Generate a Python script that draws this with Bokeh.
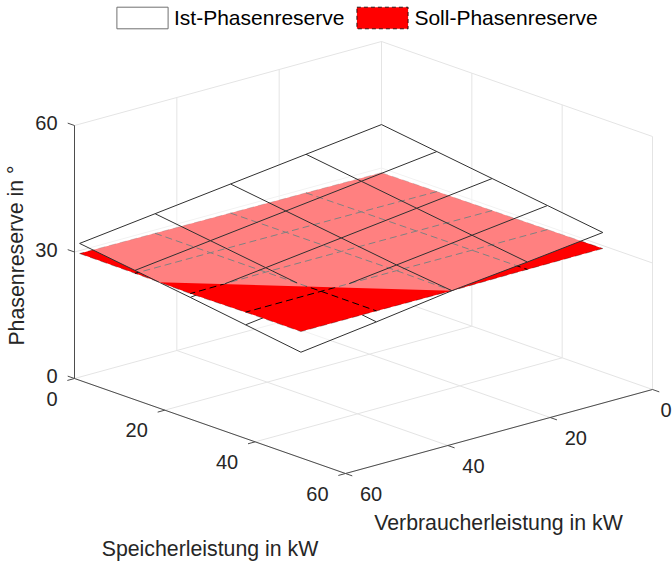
from bokeh.plotting import figure
from bokeh.models import Legend, LegendItem
from bokeh.core.properties import value
from bokeh.embed import file_html
from bokeh.resources import INLINE

# ---- data
speicher = [0, 12.25, 24.5, 36.75, 49]
verbraucher = [0, 14.75, 29.5, 44.25, 59]
ist = [
    [40.3, 38.15, 36.0, 33.85, 31.7],
    [38.5, 36.35, 34.2, 32.05, 29.9],
    [36.7, 34.55, 32.4, 30.25, 28.1],
    [34.9, 32.75, 30.6, 28.45, 26.2],
    [33.1, 31.0, 29.1, 26.6, 24.3],
]
soll = [
    [28.9, 29.0, 29.1, 29.2, 29.3],
    [29.0, 29.1, 29.15, 29.2, 29.2],
    [29.1, 29.15, 29.2, 29.2, 29.0],
    [29.2, 29.2, 29.25, 29.25, 29.2],
    [29.3, 29.25, 29.1, 29.2, 29.2],
]
xy_ticks = [0, 20, 40, 60]
z_ticks = [0, 30, 60]
series_names = ["Ist-Phasenreserve", "Soll-Phasenreserve"]
xlabel = "Speicherleistung in kW"
ylabel = "Verbraucherleistung in kW"
zlabel = "Phasenreserve in °"

# ---- orthographic view of the 3D axes (screen pixels)
BACK = (381.0, 294.0)
DS = (271.0 / 60, 95.0 / 60)
DV = (-307.0 / 60, 84.0 / 60)
DZ = 253.0 / 60


def proj(s, v, z):
    return (BACK[0] + DS[0] * s + DV[0] * v,
            BACK[1] + DS[1] * s + DV[1] * v - DZ * z)


FONT = value("Liberation Sans")
TXT = "#262626"
GRID = "#e4e4e4"
AXC = "#4d4d4d"
MESH = "#303030"

p = figure(width=672, height=561, x_range=(0, 672), y_range=(561, 0),
           output_backend="svg", toolbar_location=None, min_border=0,
           x_axis_type=None, y_axis_type=None, outline_line_color=None)
p.grid.visible = False
p.background_fill_color = "white"


def seg(a, b):
    pa, pb = proj(*a), proj(*b)
    return [pa[0], pb[0]], [pa[1], pb[1]]


# grid on walls and floor
gx, gy = [], []
for t in xy_ticks:
    for a, b in [((t, 0, 0), (t, 60, 0)), ((0, t, 0), (60, t, 0)),
                 ((0, t, 0), (0, t, 60)), ((t, 0, 0), (t, 0, 60))]:
        x, y = seg(a, b)
        gx.append(x)
        gy.append(y)
for z in z_ticks[1:]:
    for a, b in [((0, 0, z), (0, 60, z)), ((0, 0, z), (60, 0, z))]:
        x, y = seg(a, b)
        gx.append(x)
        gy.append(y)
p.multi_line(gx, gy, line_color=GRID, line_width=1)

# axes lines and ticks
ax, ay = [], []
for a, b in [((0, 60, 0), (60, 60, 0)), ((60, 60, 0), (60, 0, 0)), ((0, 60, 0), (0, 60, 60))]:
    x, y = seg(a, b)
    ax.append(x)
    ay.append(y)
for t in xy_ticks:
    x, y = seg((t, 60, 0), (t, 61.4, 0))
    ax.append(x)
    ay.append(y)
    x, y = seg((60, t, 0), (61.5, t, 0))
    ax.append(x)
    ay.append(y)
for t in z_ticks:
    x, y = seg((0, 60, t), (-1.5, 60, t))
    ax.append(x)
    ay.append(y)
p.multi_line(ax, ay, line_color=AXC, line_width=1)


# ---- splitting the Ist surface where it passes through the Soll surface
def split_edge(a, b):
    """Edges as (s, v, zi, d); returns the parts above and below the Soll surface."""
    if a[3] >= 0 and b[3] >= 0:
        return [(a, b)], []
    if a[3] <= 0 and b[3] <= 0:
        return [], [(a, b)]
    t = a[3] / (a[3] - b[3])
    m = tuple(a[i] + t * (b[i] - a[i]) for i in range(4))
    return ([(a, m)], [(m, b)]) if a[3] > 0 else ([(m, b)], [(a, m)])


def node(i, j):
    return (speicher[i], verbraucher[j], ist[i][j], ist[i][j] - soll[i][j])


n = len(speicher)
up_x, up_y, lo_x, lo_y = [], [], [], []
for i in range(n):
    for j in range(n):
        for other in ([(i + 1, j)] if i + 1 < n else []) + ([(i, j + 1)] if j + 1 < n else []):
            above, below = split_edge(node(i, j), node(*other))
            for (a, b), xs, ys in [(e, up_x, up_y) for e in above] + [(e, lo_x, lo_y) for e in below]:
                pa, pb = proj(a[0], a[1], a[2]), proj(b[0], b[1], b[2])
                xs.append([pa[0], pb[0]])
                ys.append([pa[1], pb[1]])

ring = ([(i, 0) for i in range(n)] + [(n - 1, j) for j in range(1, n)] +
        [(i, n - 1) for i in range(n - 2, -1, -1)] + [(0, j) for j in range(n - 2, 0, -1)])


def clip_ring(sign):
    pts = [node(i, j) for i, j in ring]
    out = []
    for k, a in enumerate(pts):
        b = pts[(k + 1) % len(pts)]
        if sign * a[3] >= 0:
            out.append(a)
        if a[3] * b[3] < 0:
            t = a[3] / (a[3] - b[3])
            out.append(tuple(a[q] + t * (b[q] - a[q]) for q in range(4)))
    return [proj(q[0], q[1], q[2]) for q in out]


lo_poly = clip_ring(-1)
up_poly = clip_ring(1)

# lower part of Ist: behind the Soll surface
p.patch([q[0] for q in lo_poly], [q[1] for q in lo_poly], fill_color="white", fill_alpha=0.5, line_color=None)
p.multi_line(lo_x, lo_y, line_color=MESH, line_width=1)

# Soll surface
soll_ring = [proj(speicher[i], verbraucher[j], soll[i][j]) for i, j in ring]
p.patch([q[0] for q in soll_ring], [q[1] for q in soll_ring], fill_color="#ff0000", line_color=None)
sx, sy, ex, ey = [], [], [], []
for i in range(n):
    row = [proj(speicher[i], verbraucher[j], soll[i][j]) for j in range(n)]
    col = [proj(speicher[j], verbraucher[i], soll[j][i]) for j in range(n)]
    for line in (row, col):
        if 0 < i < n - 1:
            sx.append([q[0] for q in line])
            sy.append([q[1] for q in line])
        else:
            ex.append([q[0] for q in line])
            ey.append([q[1] for q in line])
p.multi_line(sx, sy, line_color="#000000", line_width=1, line_dash="7 4")
p.multi_line(ex, ey, line_color="#000000", line_width=0.6, line_alpha=0.5, line_dash="7 4")

# upper part of Ist: in front of the Soll surface
p.patch([q[0] for q in up_poly], [q[1] for q in up_poly], fill_color="white", fill_alpha=0.5, line_color=None)
p.multi_line(up_x, up_y, line_color=MESH, line_width=1)

# ---- tick labels
lab = dict(text_font=FONT, text_color=TXT, text_font_size="20px", text_baseline="middle")
xt = [proj(t, 60, 0) for t in xy_ticks]
p.text([q[0] - 17 for q in xt], [q[1] + 20 for q in xt], text=[str(t) for t in xy_ticks], text_align="right", **lab)
yt = [proj(60, t, 0) for t in xy_ticks]
p.text([min(q[0] + 14.5, 660) for q in yt], [q[1] + 20.5 for q in yt], text=[str(t) for t in xy_ticks], text_align="left", **lab)
zt = [proj(0, 60, t) for t in z_ticks]
p.text([q[0] - 17 for q in zt], [q[1] - 2.5 for q in zt], text=[str(t) for t in z_ticks], text_align="right", **lab)

# ---- axis labels
big = dict(text_font=FONT, text_color=TXT, text_font_size="21.3px", text_baseline="middle", text_align="center")
p.text([209.5], [548], text=[xlabel], **big)
p.text([498], [522], text=[ylabel], **big)
p.text([16], [255], text=[zlabel], angle=[1.5708], **big)

# ---- legend
nan = float("nan")
r1 = p.patch([nan], [nan], fill_color="white", line_color="#707070", line_width=1)
r2 = p.patch([nan], [nan], fill_color="#ff0000", line_color="#000000", line_width=0.8, line_dash="4 3")
legend = Legend(items=[LegendItem(label=series_names[0], renderers=[r1]),
                       LegendItem(label=series_names[1], renderers=[r2])],
                orientation="horizontal", location=(110, 530), glyph_width=64, glyph_height=27,
                label_standoff=0, spacing=6, padding=0, margin=0,
                label_text_font="Liberation Sans", label_text_font_size="21px", label_text_color="#000000",
                background_fill_alpha=0, border_line_alpha=0)
p.add_layout(legend, "center")

open("out.html", "w").write(file_html(p, INLINE))
